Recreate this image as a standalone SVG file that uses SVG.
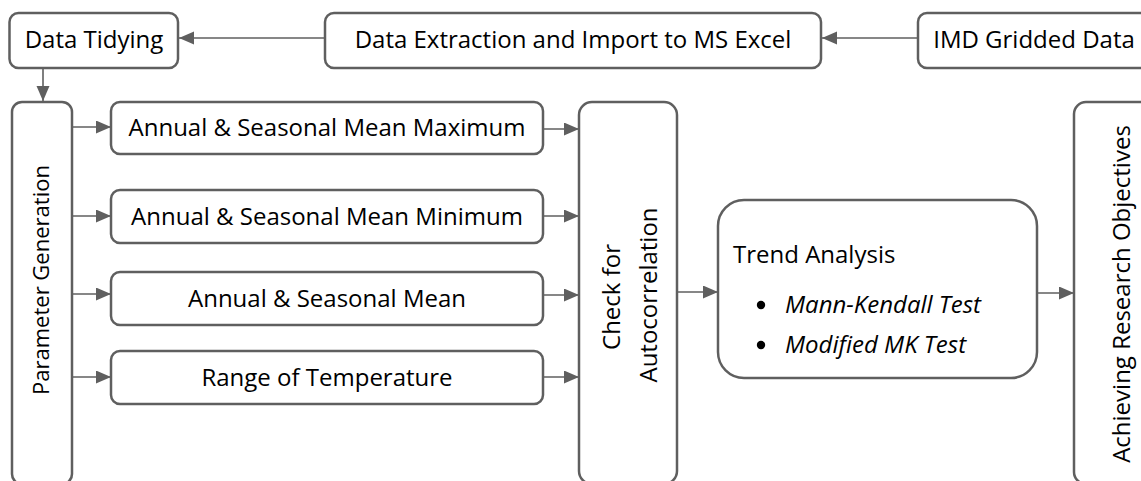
<svg xmlns="http://www.w3.org/2000/svg" width="1141" height="481" viewBox="0 0 1141 481">
  <style>
    .box { fill: #ffffff; stroke: #5f5f5f; stroke-width: 2.5; }
    .lbl { font-family: "Open Sans", "Noto Sans", sans-serif; font-size: 24px; fill: #000000; }
    .mid { text-anchor: middle; }
    .it { font-style: italic; }
    .edge { fill: none; stroke: #5f5f5f; stroke-width: 1.6; marker-end: url(#head); }
  </style>
  <defs>
    <marker id="head" markerUnits="userSpaceOnUse" markerWidth="16" markerHeight="14" refX="15" refY="6.5" orient="auto">
      <path d="M0,0 L15,6.5 L0,13 Z" fill="#5f5f5f"/>
    </marker>
  </defs>
  <rect width="1141" height="481" fill="#ffffff"/>

  <g id="connectors">
    <line class="edge" x1="918" y1="38" x2="822" y2="38"/>
    <line class="edge" x1="325" y1="38" x2="179" y2="38"/>
    <line class="edge" x1="43" y1="68" x2="43" y2="101"/>
    <line class="edge" x1="72" y1="127" x2="111" y2="127"/>
    <line class="edge" x1="72" y1="216" x2="111" y2="216"/>
    <line class="edge" x1="72" y1="294" x2="111" y2="294"/>
    <line class="edge" x1="72" y1="377" x2="111" y2="377"/>
    <line class="edge" x1="543" y1="129" x2="579" y2="129"/>
    <line class="edge" x1="543" y1="216" x2="579" y2="216"/>
    <line class="edge" x1="543" y1="295" x2="579" y2="295"/>
    <line class="edge" x1="543" y1="377" x2="579" y2="377"/>
    <line class="edge" x1="677" y1="292" x2="718" y2="292"/>
    <line class="edge" x1="1037" y1="293" x2="1074" y2="293"/>
  </g>

  <g id="imd-gridded-data">
    <rect class="box" x="918" y="13" width="234" height="55" rx="9"/>
    <text class="lbl mid" x="1034" y="48">IMD Gridded Data</text>
  </g>

  <g id="data-extraction">
    <rect class="box" x="325" y="13" width="496" height="55" rx="9"/>
    <text class="lbl mid" x="573" y="48">Data Extraction and Import to MS Excel</text>
  </g>

  <g id="data-tidying">
    <rect class="box" x="9.5" y="13" width="168.5" height="55" rx="9"/>
    <text class="lbl mid" x="94" y="48">Data Tidying</text>
  </g>

  <g id="parameter-generation">
    <rect class="box" x="12" y="102" width="60" height="382" rx="10"/>
    <text class="lbl mid" transform="translate(49 280) rotate(-90)" style="font-size:22px">Parameter Generation</text>
  </g>

  <g id="mean-maximum">
    <rect class="box" x="111" y="102" width="432" height="52" rx="9"/>
    <text class="lbl mid" x="327" y="136">Annual &amp; Seasonal Mean Maximum</text>
  </g>

  <g id="mean-minimum">
    <rect class="box" x="111" y="190" width="432" height="53" rx="9"/>
    <text class="lbl mid" x="327" y="224.5">Annual &amp; Seasonal Mean Minimum</text>
  </g>

  <g id="mean">
    <rect class="box" x="111" y="272" width="432" height="53" rx="9"/>
    <text class="lbl mid" x="327" y="306.5">Annual &amp; Seasonal Mean</text>
  </g>

  <g id="temperature-range">
    <rect class="box" x="111" y="351" width="432" height="53" rx="9"/>
    <text class="lbl mid" x="327" y="385.5">Range of Temperature</text>
  </g>

  <g id="autocorrelation-check">
    <rect class="box" x="579" y="102" width="98" height="382" rx="13"/>
    <text class="lbl mid" transform="translate(620 297) rotate(-90)">Check for</text>
    <text class="lbl mid" transform="translate(657 295) rotate(-90)">Autocorrelation</text>
  </g>

  <g id="trend-analysis">
    <rect class="box" x="718" y="200" width="319" height="178" rx="26"/>
    <text class="lbl" x="733" y="263">Trend Analysis</text>
    <circle cx="761" cy="305" r="4.2" fill="#000000"/>
    <text class="lbl it" x="785" y="313">Mann-Kendall Test</text>
    <circle cx="761" cy="345" r="4.2" fill="#000000"/>
    <text class="lbl it" x="785" y="353">Modified MK Test</text>
  </g>

  <g id="research-objectives">
    <rect class="box" x="1074" y="102" width="96" height="382" rx="12"/>
    <text class="lbl mid" transform="translate(1130 294) rotate(-90)">Achieving Research Objectives</text>
  </g>
</svg>
